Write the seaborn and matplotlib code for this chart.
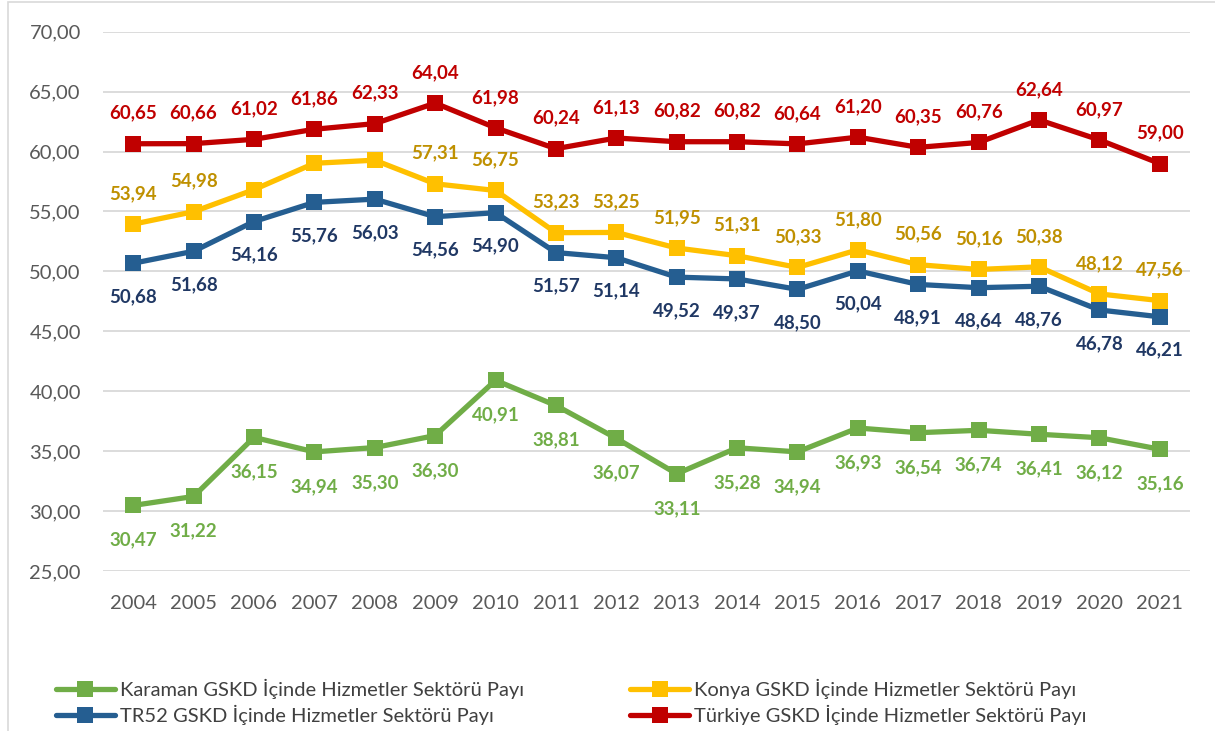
import numpy as np
import pandas as pd
import matplotlib
matplotlib.use("Agg")
import matplotlib.pyplot as plt
from matplotlib.patches import Rectangle
import seaborn as sns

years = list(range(2004, 2022))

karaman = [30.47, 31.22, 36.15, 34.94, 35.30, 36.30, 40.91, 38.81, 36.07,
           33.11, 35.28, 34.94, 36.93, 36.54, 36.74, 36.41, 36.12, 35.16]
konya = [53.94, 54.98, 56.82, 59.02, 59.28, 57.31, 56.75, 53.23, 53.25,
         51.95, 51.31, 50.33, 51.80, 50.56, 50.16, 50.38, 48.12, 47.56]
tr52 = [50.68, 51.68, 54.16, 55.76, 56.03, 54.56, 54.90, 51.57, 51.14,
        49.52, 49.37, 48.50, 50.04, 48.91, 48.64, 48.76, 46.78, 46.21]
turkiye = [60.65, 60.66, 61.02, 61.86, 62.33, 64.04, 61.98, 60.24, 61.13,
           60.82, 60.82, 60.64, 61.20, 60.35, 60.76, 62.64, 60.97, 59.00]

# konya 2006-2008 have no data label in the chart
konya_labels = [53.94, 54.98, None, None, None, 57.31, 56.75, 53.23, 53.25,
                51.95, 51.31, 50.33, 51.80, 50.56, 50.16, 50.38, 48.12, 47.56]

names = ["Karaman GSKD İçinde Hizmetler Sektörü Payı",
         "TR52 GSKD İçinde Hizmetler Sektörü Payı",
         "Konya GSKD İçinde Hizmetler Sektörü Payı",
         "Türkiye GSKD İçinde Hizmetler Sektörü Payı"]

sns.set_theme(style="white")
plt.rcParams["font.family"] = ["Lato", "DejaVu Sans"]

fig = plt.figure(figsize=(12.15, 7.31), dpi=100)
ax = fig.add_axes([103/1215, 1 - 571/731, (1190-103)/1215, (571-31.7)/731])

series = [
    (karaman, karaman, "#70AD47", "#70AD47", -25),
    (tr52, tr52, "#255E91", "#203864", -24),
    (konya, konya_labels, "#FFC000", "#BF9000", 22),
    (turkiye, turkiye, "#C00000", "#C00000", 22),
]

for (vals, labs, col, lcol, off), name in zip(series, names):
    df = pd.DataFrame({"Yıl": years, "Değer": vals})
    sns.lineplot(data=df, x="Yıl", y="Değer", ax=ax, color=col, lw=3.8,
                 marker="s", markersize=11, markeredgewidth=0, label=name)
    for x, v, l in zip(years, vals, labs):
        if l is None:
            continue
        ax.annotate(f"{l:.2f}".replace(".", ","), (x, v), xytext=(0, off),
                    textcoords="offset points", ha="center", va="center",
                    color=lcol, fontsize=13.5, fontweight="bold")

ax.set_xlim(2003.5, 2021.5)
ax.set_ylim(25, 70)
ax.set_xticks(years)
ax.set_xticklabels([str(y) for y in years])
yt = np.arange(25, 71, 5)
ax.set_yticks(yt)
ax.set_yticklabels([f"{v:.2f}".replace(".", ",") for v in yt])
ax.tick_params(axis="both", length=0, labelsize=14.5, colors="#595959")
ax.tick_params(axis="y", pad=16)
ax.tick_params(axis="x", pad=17)
ax.set_xlabel("")
ax.set_ylabel("")
ax.grid(axis="y", color="#D9D9D9", lw=1.3)
ax.set_axisbelow(True)
for s in ax.spines.values():
    s.set_visible(False)

handles, labels = ax.get_legend_handles_labels()
ax.get_legend().remove()
fig.legend(handles, labels, ncol=2, loc="upper left",
           bbox_to_anchor=(40/1215, 1 - 663/731), frameon=False,
           fontsize=14.5, handlelength=2.9, handletextpad=0.25,
           columnspacing=5.3, labelspacing=0.3, labelcolor="#404040",
           borderpad=0.3)

fig.add_artist(Rectangle((8/1215, -0.1), 2, (729/731) + 0.1,
                         transform=fig.transFigure, fill=False,
                         ec="#D9D9D9", lw=1.2))

fig.savefig("out.png", dpi=100)
